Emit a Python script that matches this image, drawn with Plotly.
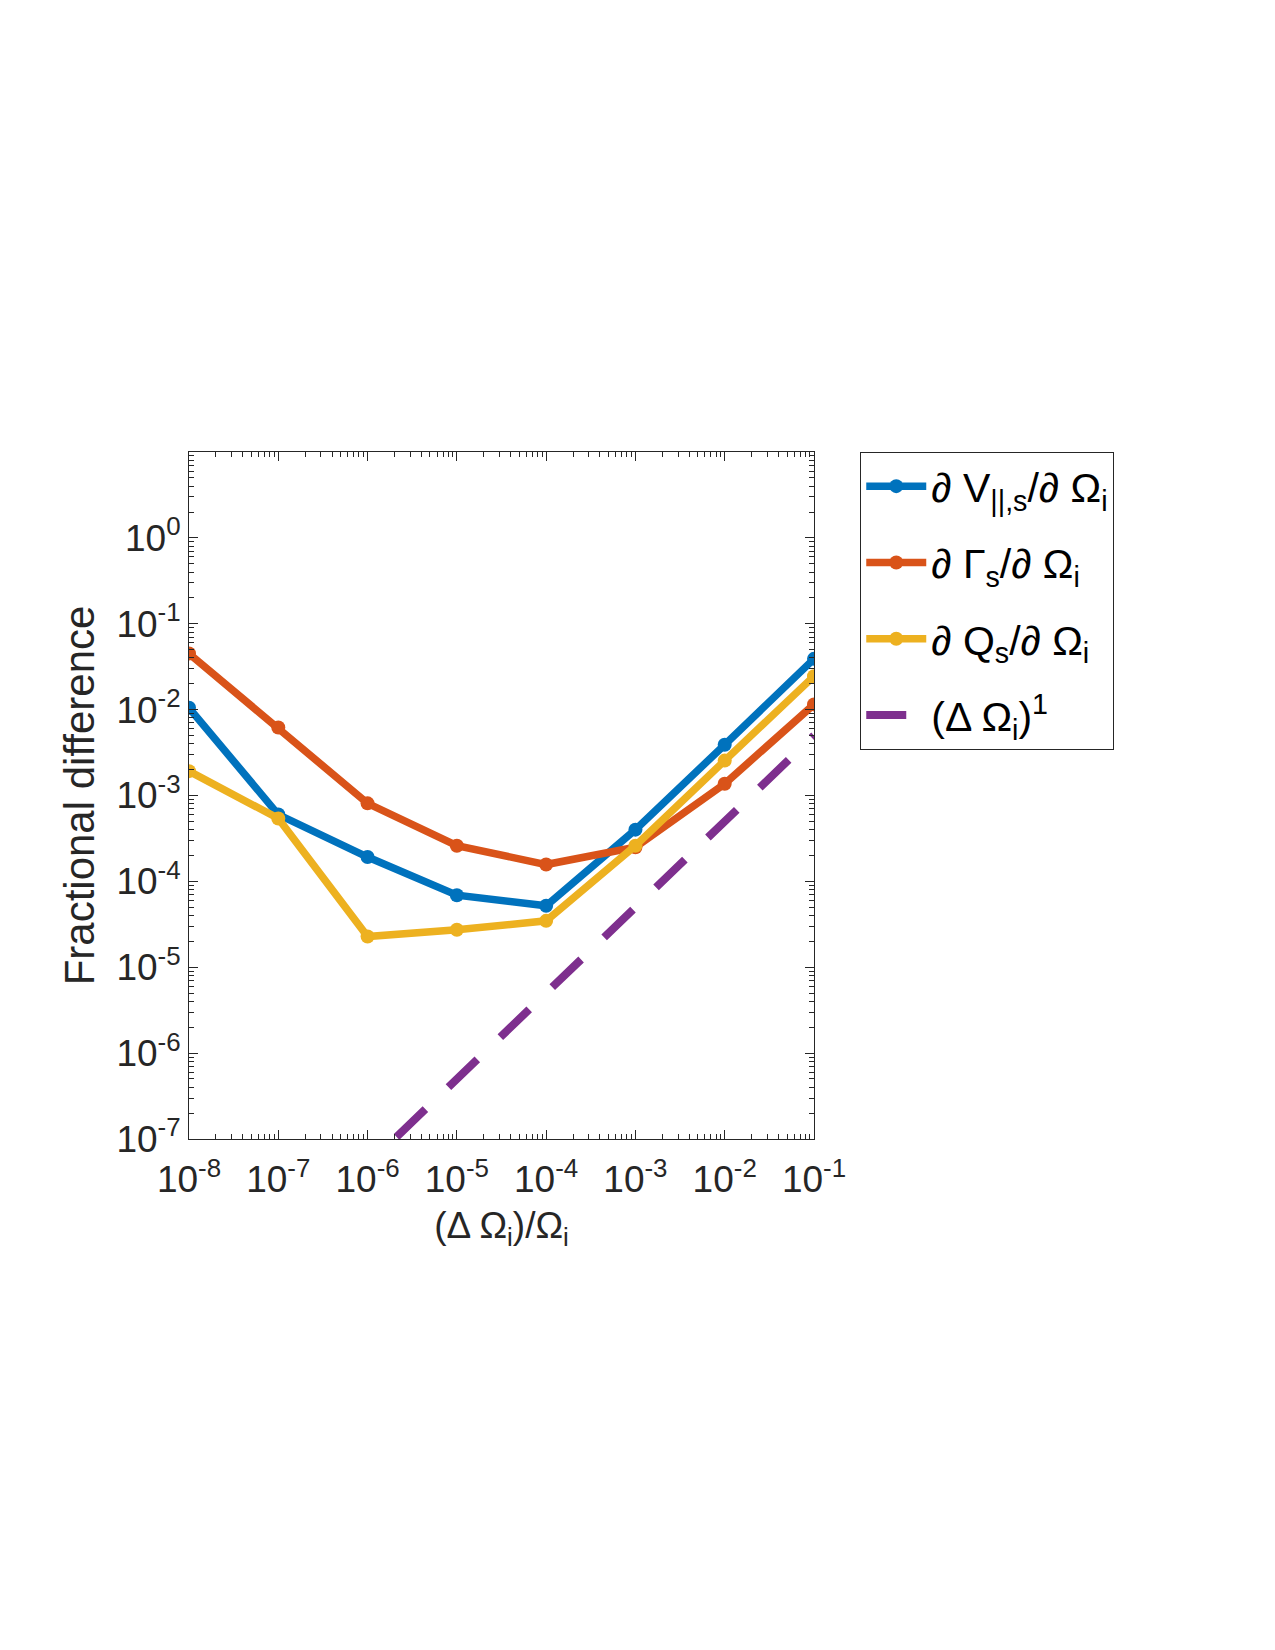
import plotly.graph_objects as go

# Data
x_vals = [1e-8, 1e-7, 1e-6, 1e-5, 1e-4, 1e-3, 1e-2, 1e-1]
v_par = [1.05e-2, 6.0e-4, 1.92e-4, 6.9e-5, 5.2e-5, 4.0e-4, 3.9e-3, 3.9e-2]
gamma_s = [4.5e-2, 6.2e-3, 8.1e-4, 2.6e-4, 1.57e-4, 2.5e-4, 1.37e-3, 1.15e-2]
q_s = [1.92e-3, 5.4e-4, 2.28e-5, 2.73e-5, 3.47e-5, 2.6e-4, 2.55e-3, 2.45e-2]
ref_line = [5e-10, 5e-9, 5e-8, 5e-7, 5e-6, 5e-5, 5e-4, 5e-3]

series_names = [
    "∂ V<sub>||,s</sub>/∂ Ω<sub>i</sub>",
    "∂ Γ<sub>s</sub>/∂ Ω<sub>i</sub>",
    "∂ Q<sub>s</sub>/∂ Ω<sub>i</sub>",
    "(Δ Ω<sub>i</sub>)<sup>1</sup>",
]
colors = ["#0072BD", "#D95319", "#EDB120", "#7E2F8E"]

x_tick_exp = [-8, -7, -6, -5, -4, -3, -2, -1]
y_tick_exp = [-7, -6, -5, -4, -3, -2, -1, 0]

FONT = "Liberation Sans Narrow, Liberation Sans, Arial, sans-serif"
FONT_N = "Liberation Sans, Arial, sans-serif"
AX = "#262626"

fig = go.Figure()
for name, ys, col in zip(series_names[:3], [v_par, gamma_s, q_s], colors[:3]):
    fig.add_trace(go.Scatter(
        x=x_vals, y=ys, name=name, mode="lines+markers",
        line=dict(color=col, width=7.5),
        marker=dict(color=col, size=14),
        legendgroup=name,
    ))
fig.add_trace(go.Scatter(
    x=x_vals, y=ref_line, name=series_names[3], mode="lines",
    line=dict(color=colors[3], width=8, dash="40px,32px"),
    legendgroup=series_names[3],
))

axis_common = dict(
    type="log",
    showline=True, linecolor=AX, linewidth=1, mirror="ticks",
    ticks="inside", ticklen=9, tickcolor=AX, tickwidth=1,
    showgrid=False, zeroline=False,
    tickfont=dict(family=FONT, size=37, color=AX),
    minor=dict(ticks="inside", ticklen=5, tickcolor=AX, dtick="D1", showgrid=False),
)

fig.update_xaxes(
    **axis_common,
    range=[-8, -1],
    tickmode="array",
    tickvals=[10 ** e for e in x_tick_exp],
    ticktext=[f"10<sup>{e}</sup>" for e in x_tick_exp],
    ticklabelstandoff=8,
    title=dict(text="(Δ Ω<sub>i</sub>)/Ω<sub>i</sub>",
               font=dict(family=FONT_N, size=37, color=AX), standoff=12),
)
fig.update_yaxes(
    **axis_common,
    range=[-7, 1],
    tickmode="array",
    tickvals=[10 ** e for e in y_tick_exp],
    ticktext=[f"10<sup>{e}</sup>" for e in y_tick_exp],
    title=dict(text="Fractional difference",
               font=dict(family=FONT_N, size=42, color=AX), standoff=8),
)

fig.update_layout(
    width=1275, height=1650,
    margin=dict(l=189, r=461, t=452, b=511),
    plot_bgcolor="white", paper_bgcolor="white",
    font=dict(family=FONT_N, color="#000000"),
    legend=dict(
        x=1.074, y=1.0, xanchor="left", yanchor="top",
        bordercolor=AX, borderwidth=1, bgcolor="white",
        font=dict(family=FONT_N, size=41, color="#000000"),
        itemwidth=60, traceorder="grouped", tracegroupgap=20,
    ),
)

fig.write_html("out.html")
